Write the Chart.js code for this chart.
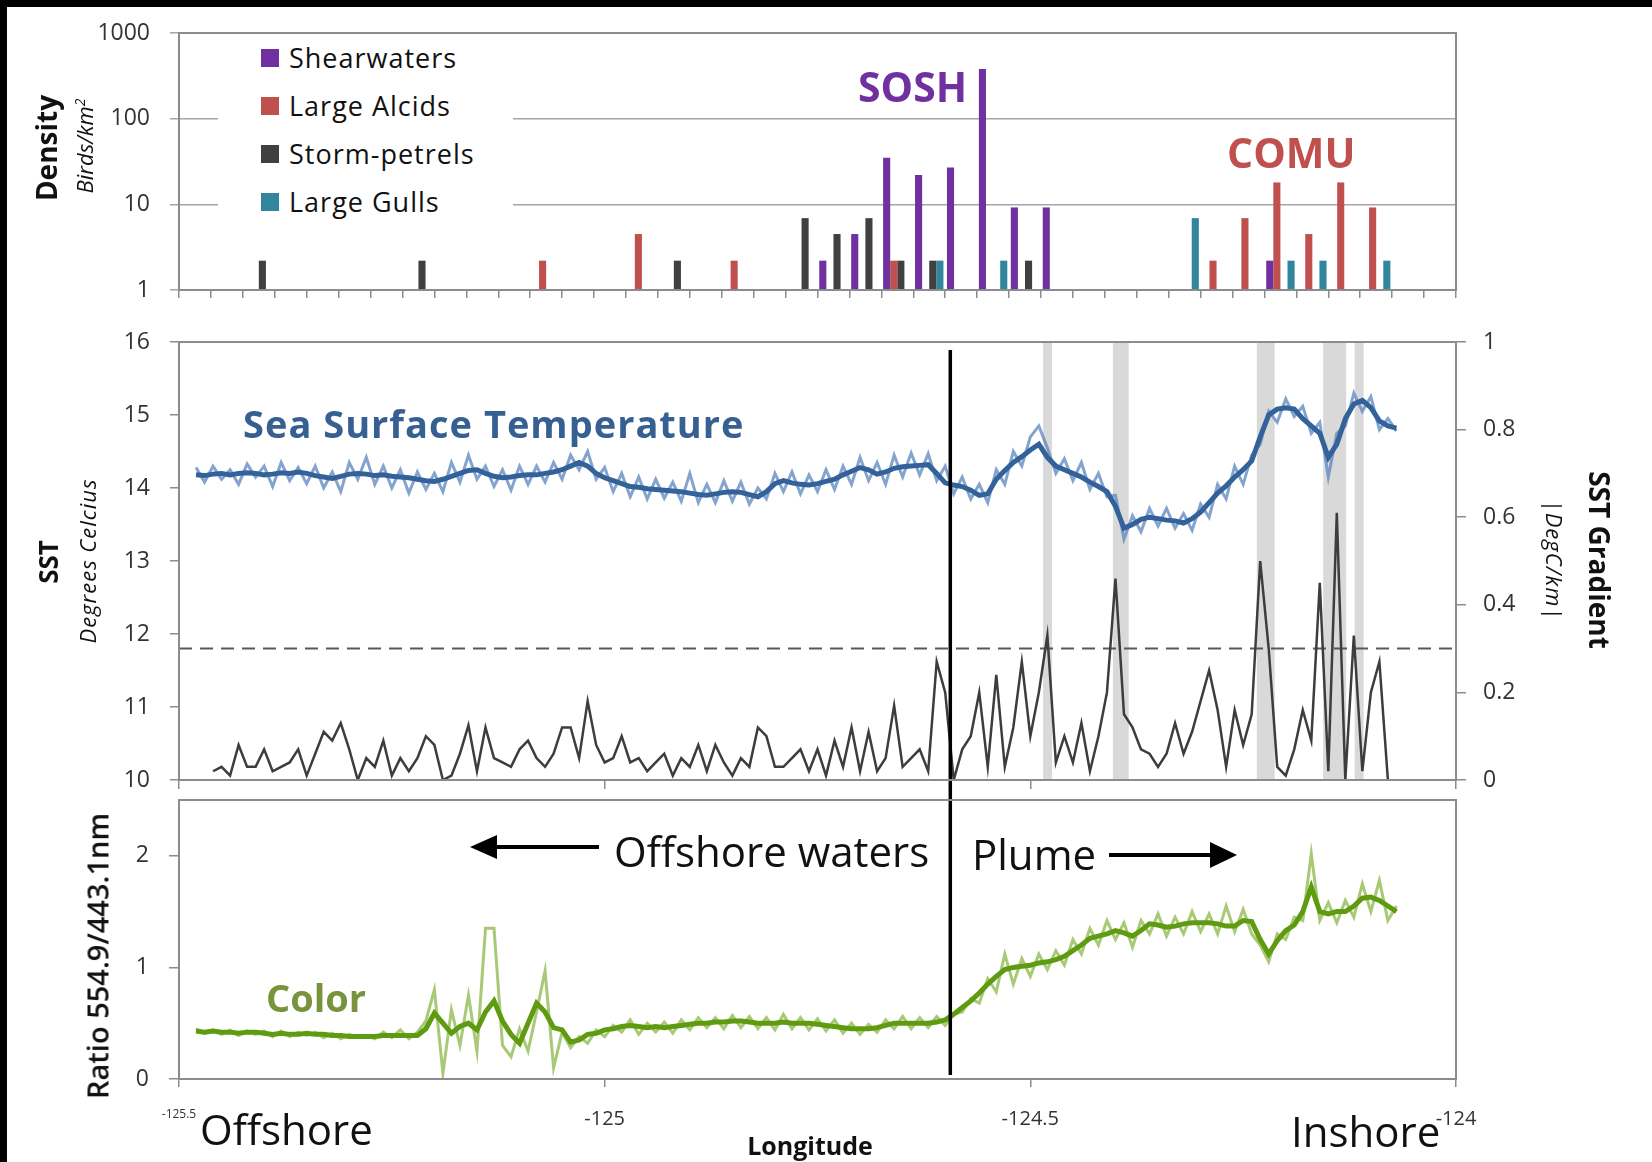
<!DOCTYPE html>
<html>
<head>
<meta charset="utf-8">
<script src="https://cdn.jsdelivr.net/npm/chart.js@4.4.1/dist/chart.umd.min.js"></script>
<style>
  html, body { margin: 0; padding: 0; background: #fff; }
  #page { position: relative; width: 1652px; height: 1162px; overflow: hidden; font-family: 'Open Sans', sans-serif; color: #111; }
  canvas { position: absolute; left: 0; }
  .txt { position: absolute; white-space: nowrap; line-height: 1; }
  .rot { position: absolute; white-space: nowrap; line-height: 1; transform: translate(-50%, -50%) rotate(-90deg); }
  .rotcw { position: absolute; white-space: nowrap; line-height: 1; transform: translate(-50%, -50%) rotate(90deg); }
  .black { position: absolute; background: #000; }
  #legend { position: absolute; left: 218px; top: 38px; width: 295px; height: 195px; background: #fff; }
  .legend-row { position: absolute; left: 43px; height: 27px; font-size: 27px; line-height: 27px; letter-spacing: 1px; }
  .swatch { position: absolute; left: 0; top: 5px; width: 18px; height: 18px; }
  .legend-label { position: absolute; left: 28px; top: 0; white-space: nowrap; }
</style>
</head>
<body>
<div id="page">
  <canvas id="densityChart" width="1652" height="300" style="top:0"></canvas>
  <canvas id="sstChart" width="1652" height="490" style="top:300px"></canvas>
  <canvas id="colorChart" width="1652" height="372" style="top:790px"></canvas>

  <div id="legend"></div>

  <div class="rot" style="left:46px;top:148px;font-size:28px;font-weight:700">Density</div>
  <div class="rot" style="left:84px;top:146px;font-size:22px;font-style:italic">Birds/km<sup style="font-size:14px">2</sup></div>
  <div class="rot" style="left:48px;top:562px;font-size:26px;font-weight:700">SST</div>
  <div class="rot" style="left:87px;top:561px;font-size:22px;font-style:italic;letter-spacing:1px">Degrees Celcius</div>
  <div class="rot" style="left:97px;top:956px;font-size:29px;font-weight:600">Ratio 554.9/443.1nm</div>
  <div class="rotcw" style="left:1600px;top:560px;font-size:28px;font-weight:700">SST Gradient</div>
  <div class="rotcw" style="left:1555px;top:560px;font-size:22px;font-style:italic;letter-spacing:1px">|DegC/km|</div>

  <div class="txt" style="left:858px;top:66px;font-size:41px;font-weight:700;color:#7030a0">SOSH</div>
  <div class="txt" style="left:1227px;top:132px;font-size:41px;font-weight:700;color:#c0504d">COMU</div>
  <div class="txt" style="left:243px;top:404px;font-size:38px;font-weight:700;letter-spacing:1px;color:#376092">Sea Surface Temperature</div>
  <div class="txt" style="left:266px;top:978px;font-size:38px;font-weight:700;color:#77933c">Color</div>
  <div class="txt" style="left:614px;top:830px;font-size:42px">Offshore waters</div>
  <div class="txt" style="left:972px;top:833px;font-size:42px">Plume</div>
  <div class="txt" style="left:200px;top:1108px;font-size:42px">Offshore</div>
  <div class="txt" style="left:1291px;top:1110px;font-size:42px">Inshore</div>
  <div class="txt" style="left:810px;top:1133px;font-size:25px;font-weight:700;transform:translateX(-50%)">Longitude</div>

  <svg style="position:absolute;left:0;top:0" width="1652" height="1162">
    <line x1="495" y1="847" x2="599" y2="847" stroke="#000" stroke-width="4"/>
    <polygon points="470,847 497,835 497,859" fill="#000"/>
    <line x1="1109" y1="855" x2="1212" y2="855" stroke="#000" stroke-width="4"/>
    <polygon points="1237,855 1210,842 1210,868" fill="#000"/>
  </svg>

  <div class="black" style="left:0;top:0;width:1652px;height:7px"></div>
  <div class="black" style="left:0;top:0;width:7px;height:1162px"></div>
</div>

<script>
// Bird densities per longitude bin (birds/km2), log axis
const _ = null;
const densityBins = ['1','2','3','4','5','6','7','8','9','10','11','12','13','14','15','16','17','18','19','20',
                     '21','22','23','24','25','26','27','28','29','30','31','32','33','34','35','36','37','38','39','40'];
const densityTicks = [1, 10, 100, 1000];

const shearwaters = [_, _, _, _, _, _, _, _, _, _,
                     _, _, _, _, _, _, _, _, _, _,
                     2.2, 4.5, 35, 22, 27, 380, 9.2, 9.2, _, _,
                     _, _, _, _, 2.2, _, _, _, _, _];
const largeAlcids = [_, _, _, _, _, _, _, _, _, _,
                     _, 2.2, _, _, 4.5, _, _, 2.2, _, _,
                     _, _, 2.2, _, _, _, _, _, _, _,
                     _, _, 2.2, 6.9, 18, 4.5, 18, 9.2, _, _];
const stormPetrels = [_, _, 2.2, _, _, _, _, 2.2, _, _,
                      _, _, _, _, _, 2.2, _, _, _, 6.9,
                      4.5, 6.9, 2.2, 2.2, _, _, 2.2, _, _, _,
                      _, _, _, _, _, _, _, _, _, _];
const largeGulls = [_, _, _, _, _, _, _, _, _, _,
                    _, _, _, _, _, _, _, _, _, _,
                    _, _, _, 2.2, _, 2.2, _, _, _, _,
                    _, 6.9, _, _, 2.2, 2.2, _, 2.2, _, _];

// Transect samples, one every 0.01 degree of longitude from -125.48
const transectStart = -125.48;
const transectStep = 0.01;

const sstRaw = [14.28, 14.08, 14.3, 14.12, 14.25, 14.05, 14.33, 14.15, 14.3, 14.02,
  14.35, 14.1, 14.28, 14.06, 14.3, 14.0, 14.22, 13.95, 14.35, 14.12,
  14.42, 14.05, 14.3, 14.0, 14.25, 13.93, 14.22, 13.98, 14.2, 13.95,
  14.35, 14.08, 14.45, 14.12, 14.3, 14.02, 14.25, 13.97, 14.3, 14.05,
  14.3, 14.08, 14.35, 14.12, 14.45, 14.25, 14.5, 14.12, 14.28, 13.95,
  14.2, 13.88, 14.15, 13.85, 14.12, 13.86, 14.08, 13.82, 14.2, 13.8,
  14.05, 13.8, 14.1, 13.82, 14.08, 13.78, 14.0, 13.85, 14.2, 13.95,
  14.22, 13.92, 14.18, 13.95, 14.25, 13.98, 14.3, 14.05, 14.42, 14.1,
  14.35, 14.05, 14.45, 14.15, 14.48, 14.18, 14.47, 14.1, 14.3, 13.92,
  14.15, 13.85, 14.05, 13.8, 14.25, 14.05, 14.5, 14.3, 14.7, 14.85,
  14.55, 14.2, 14.4, 14.1, 14.35, 13.98, 14.2, 13.88, 13.9, 13.3,
  13.62, 13.4, 13.72, 13.48, 13.72, 13.45, 13.65, 13.42, 13.78, 13.6,
  14.05, 13.85, 14.3, 14.05, 14.45, 14.6, 15.05, 14.9, 15.22, 14.98,
  15.12, 14.75, 14.9, 14.15, 14.75, 14.85, 15.3, 15.05, 15.25, 14.8,
  14.95, 14.78];

const sstSmooth = [14.18, 14.17, 14.19, 14.2, 14.18, 14.2, 14.21, 14.2, 14.18, 14.19,
  14.21, 14.2, 14.22, 14.2, 14.17, 14.15, 14.13, 14.16, 14.19, 14.2,
  14.19, 14.17, 14.18, 14.16, 14.15, 14.14, 14.12, 14.1, 14.09, 14.12,
  14.16, 14.2, 14.24, 14.25, 14.2, 14.16, 14.14, 14.15, 14.17, 14.18,
  14.18, 14.2, 14.22, 14.25, 14.3, 14.35, 14.3, 14.2, 14.14, 14.1,
  14.06, 14.02, 14.01, 13.99, 13.98, 13.97, 13.96, 13.95, 13.93, 13.91,
  13.9, 13.92, 13.94, 13.95, 13.94, 13.91, 13.88, 13.95, 14.06, 14.1,
  14.07, 14.05, 14.04, 14.06, 14.09, 14.12, 14.18, 14.23, 14.28, 14.25,
  14.19, 14.22, 14.27, 14.29, 14.3, 14.31, 14.32, 14.2, 14.07, 14.04,
  14.02, 13.97, 13.9, 13.92, 14.12, 14.24, 14.35, 14.43, 14.52, 14.6,
  14.42, 14.3, 14.25, 14.2, 14.15, 14.08, 14.02, 13.95, 13.75, 13.45,
  13.5, 13.57, 13.6, 13.58, 13.56, 13.55, 13.52, 13.58, 13.67, 13.8,
  13.93, 14.03, 14.15, 14.25, 14.37, 14.7, 15.0, 15.08, 15.1, 15.08,
  14.95, 14.85, 14.75, 14.42, 14.6, 14.95, 15.15, 15.2, 15.1, 14.92,
  14.85, 14.82];

const sstGradient = [_, _, 0.02, 0.03, 0.01, 0.08, 0.03, 0.03, 0.07, 0.02,
  0.03, 0.04, 0.07, 0.01, 0.06, 0.11, 0.09, 0.13, 0.07, 0.0,
  0.05, 0.03, 0.09, 0.01, 0.05, 0.02, 0.05, 0.1, 0.08, 0.0,
  0.01, 0.06, 0.125, 0.02, 0.12, 0.05, 0.04, 0.03, 0.07, 0.09,
  0.05, 0.03, 0.06, 0.12, 0.12, 0.05, 0.18, 0.08, 0.04, 0.05,
  0.1, 0.04, 0.05, 0.02, 0.04, 0.06, 0.01, 0.05, 0.03, 0.08,
  0.02, 0.08, 0.04, 0.01, 0.05, 0.03, 0.12, 0.1, 0.03, 0.03,
  0.05, 0.07, 0.02, 0.07, 0.01, 0.09, 0.03, 0.12, 0.02, 0.11,
  0.02, 0.05, 0.17, 0.03, 0.05, 0.07, 0.02, 0.27, 0.2, 0.0,
  0.07, 0.1, 0.2, 0.03, 0.24, 0.03, 0.12, 0.27, 0.1, 0.2,
  0.33, 0.04, 0.1, 0.04, 0.13, 0.02, 0.1, 0.2, 0.46, 0.15,
  0.12, 0.07, 0.06, 0.03, 0.06, 0.13, 0.06, 0.11, 0.18, 0.25,
  0.16, 0.03, 0.16, 0.08, 0.15, 0.5, 0.3, 0.03, 0.01, 0.07,
  0.16, 0.09, 0.45, 0.02, 0.61, 0.0, 0.33, 0.02, 0.2, 0.27,
  0.0, _];
const gradientThreshold = 0.3;

const colorRaw = [0.45, 0.41, 0.44, 0.4, 0.44, 0.39, 0.43, 0.4, 0.43, 0.38,
  0.43, 0.38, 0.42, 0.39, 0.42, 0.37, 0.41, 0.36, 0.4, 0.37,
  0.39, 0.36, 0.42, 0.37, 0.44, 0.36, 0.42, 0.52, 0.8, 0.05,
  0.62, 0.3, 0.75, 0.25, 1.35, 1.35, 0.3, 0.2, 0.45, 0.25,
  0.6, 0.97, 0.1, 0.42, 0.28, 0.38, 0.32, 0.44, 0.38, 0.48,
  0.42, 0.53, 0.4, 0.5, 0.42, 0.51, 0.41, 0.53, 0.44, 0.55,
  0.46, 0.55, 0.45, 0.57, 0.46, 0.56, 0.45, 0.55, 0.44, 0.58,
  0.45, 0.55, 0.44, 0.54, 0.43, 0.53, 0.41, 0.5, 0.4, 0.49,
  0.42, 0.53, 0.45, 0.56, 0.45, 0.55, 0.46, 0.56, 0.48, 0.58,
  0.6, 0.72, 0.68, 0.9, 0.78, 1.12, 0.85, 1.08, 0.92, 1.12,
  0.98, 1.15, 1.02, 1.25, 1.12, 1.35, 1.2, 1.42, 1.25, 1.4,
  1.18, 1.42, 1.3, 1.48, 1.28, 1.45, 1.3, 1.5, 1.32, 1.48,
  1.3, 1.55, 1.32, 1.52, 1.3, 1.2, 1.05, 1.3, 1.25, 1.45,
  1.42, 2.02, 1.42, 1.58, 1.4, 1.6, 1.45, 1.75, 1.5, 1.78,
  1.42, 1.55];

const colorSmooth = [0.43, 0.42, 0.43, 0.42, 0.42, 0.41, 0.42, 0.42, 0.41, 0.4,
  0.41, 0.4, 0.4, 0.41, 0.4, 0.4, 0.39, 0.39, 0.38, 0.38,
  0.38, 0.38, 0.39, 0.39, 0.39, 0.39, 0.39, 0.45, 0.59, 0.5,
  0.41, 0.47, 0.5, 0.44, 0.6, 0.7, 0.52, 0.4, 0.32, 0.5,
  0.68, 0.6, 0.46, 0.44, 0.33, 0.35, 0.4, 0.41, 0.44, 0.45,
  0.47, 0.48, 0.47, 0.46, 0.47, 0.46, 0.47, 0.48, 0.49, 0.5,
  0.5, 0.51, 0.51, 0.52, 0.52, 0.51, 0.5, 0.5, 0.5, 0.51,
  0.5, 0.5, 0.5, 0.49, 0.48, 0.47, 0.46, 0.45, 0.45, 0.45,
  0.46, 0.48, 0.5, 0.5, 0.5, 0.5, 0.5, 0.51, 0.53, 0.58,
  0.64, 0.7, 0.77, 0.85, 0.92, 0.98, 1.0, 1.01, 1.02, 1.04,
  1.05, 1.07, 1.1, 1.15, 1.2, 1.26, 1.28, 1.3, 1.33, 1.31,
  1.28, 1.33, 1.39, 1.38, 1.36, 1.37, 1.39, 1.4, 1.4, 1.4,
  1.39, 1.37, 1.37, 1.42, 1.41, 1.25, 1.12, 1.24, 1.33, 1.38,
  1.5, 1.72, 1.5, 1.48, 1.5, 1.5, 1.55, 1.62, 1.63, 1.6,
  1.55, 1.5];

const lonTicks = [-125.5, -125, -124.5, -124];
const colorTicks = [0, 1, 2];
// SST fronts (gradient above threshold), shaded
const frontBands = [[-124.485, -124.4745], [-124.403, -124.3845], [-124.234, -124.213],
                    [-124.156, -124.129], [-124.119, -124.1085]];
const plumeFrontLon = -124.594;

Chart.defaults.font.family = "'Open Sans', sans-serif";
Chart.defaults.font.size = 23;
Chart.defaults.color = '#333';

const axisGray = '#8c8c8c';
const leftAxisWidth = 179;
const rightMargin = 196;

function track(values) {
  return values.map((v, i) => ({ x: transectStart + i * transectStep, y: v }));
}

// fixed axis widths so the three panels line up; no label overhang padding
function fixWidth(w) {
  return s => { s.width = w; s.paddingTop = 0; s.paddingBottom = 0; };
}
function fixHeight(h) {
  return s => { s.height = h; };
}

const framePlugin = {
  id: 'frame',
  afterDraw(chart) {
    const { ctx, chartArea: a } = chart;
    ctx.save();
    ctx.strokeStyle = axisGray;
    ctx.lineWidth = 2;
    ctx.strokeRect(a.left, a.top, a.right - a.left, a.bottom - a.top);
    ctx.restore();
  }
};

const bandPlugin = {
  id: 'bands',
  beforeDatasetsDraw(chart) {
    const { ctx, chartArea: a, scales: { x } } = chart;
    ctx.save();
    ctx.fillStyle = '#d9d9d9';
    frontBands.forEach(([from, to]) => {
      const x0 = x.getPixelForValue(from);
      const x1 = x.getPixelForValue(to);
      ctx.fillRect(x0, a.top, x1 - x0, a.bottom - a.top);
    });
    ctx.restore();
  }
};

function plumeLine(fromTop, toBottom) {
  return {
    id: 'plumeLine',
    afterDatasetsDraw(chart) {
      const { ctx, chartArea: a, scales: { x } } = chart;
      const px = x.getPixelForValue(plumeFrontLon);
      ctx.save();
      ctx.strokeStyle = '#000';
      ctx.lineWidth = 3.5;
      ctx.beginPath();
      ctx.moveTo(px, fromTop(a, chart));
      ctx.lineTo(px, toBottom(a, chart));
      ctx.stroke();
      ctx.restore();
    }
  };
}

// Top: seabird densities
const densityChart = new Chart(document.getElementById('densityChart'), {
  type: 'bar',
  data: {
    labels: densityBins,
    datasets: [
      { label: 'Shearwaters', data: shearwaters, backgroundColor: '#7030a0' },
      { label: 'Large Alcids', data: largeAlcids, backgroundColor: '#c0504d' },
      { label: 'Storm-petrels', data: stormPetrels, backgroundColor: '#404040' },
      { label: 'Large Gulls', data: largeGulls, backgroundColor: '#31859c' }
    ]
  },
  options: {
    responsive: false,
    animation: false,
    events: [],
    layout: { padding: { top: 33, right: rightMargin, left: 0, bottom: 0 } },
    datasets: { bar: { barPercentage: 1, categoryPercentage: 0.89 } },
    plugins: { legend: { display: false }, tooltip: { enabled: false } },
    scales: {
      x: {
        ticks: { display: false },
        grid: { offset: true, drawOnChartArea: false, tickLength: 8, color: axisGray, lineWidth: 1.5 },
        border: { color: axisGray, width: 2 },
        afterFit: fixHeight(10)
      },
      y: {
        type: 'logarithmic',
        min: 1,
        max: 1000,
        afterBuildTicks: s => { s.ticks = densityTicks.map(v => ({ value: v })); },
        ticks: { callback: v => String(v), padding: 20 },
        grid: { color: '#a6a6a6', lineWidth: 1.5, tickLength: 9 },
        border: { color: axisGray, width: 2 },
        afterFit: fixWidth(leftAxisWidth)
      }
    }
  },
  plugins: [framePlugin]
});

// legend built from the chart's own datasets
const legendBox = document.getElementById('legend');
densityChart.data.datasets.forEach((ds, i) => {
  const row = document.createElement('div');
  row.className = 'legend-row';
  row.style.top = (6 + 48 * i) + 'px';
  row.innerHTML = '<span class="swatch" style="background:' + ds.backgroundColor + '"></span>' +
                  '<span class="legend-label">' + ds.label + '</span>';
  legendBox.appendChild(row);
});

// Middle: SST and SST gradient
new Chart(document.getElementById('sstChart'), {
  type: 'line',
  data: {
    datasets: [
      { label: 'SST (smoothed)', data: track(sstSmooth), yAxisID: 'ySST', borderColor: '#33619a', borderWidth: 5 },
      { label: 'SST', data: track(sstRaw), yAxisID: 'ySST', borderColor: 'rgba(90,134,190,0.75)', borderWidth: 3 },
      { label: 'SST gradient', data: track(sstGradient), yAxisID: 'yGrad', borderColor: '#3d3d3d', borderWidth: 2.5 },
      { label: 'Front threshold', yAxisID: 'yGrad', borderColor: '#595959', borderWidth: 2, borderDash: [13, 8],
        data: [{ x: lonTicks[0], y: gradientThreshold }, { x: lonTicks[lonTicks.length - 1], y: gradientThreshold }] }
    ]
  },
  options: {
    responsive: false,
    animation: false,
    events: [],
    elements: { point: { radius: 0 }, line: { tension: 0, fill: false } },
    layout: { padding: { top: 42, right: 0, left: 0, bottom: 0 } },
    plugins: { legend: { display: false }, tooltip: { enabled: false } },
    scales: {
      x: {
        type: 'linear', min: -125.5, max: -124,
        afterBuildTicks: s => { s.ticks = lonTicks.map(v => ({ value: v })); },
        ticks: { display: false },
        grid: { drawOnChartArea: false, tickLength: 9, color: axisGray, lineWidth: 1.5 },
        border: { color: axisGray, width: 2 },
        afterFit: fixHeight(10)
      },
      ySST: {
        position: 'left', min: 10, max: 16,
        ticks: { stepSize: 1, padding: 20 },
        grid: { drawOnChartArea: false, tickLength: 9, color: axisGray, lineWidth: 1.5 },
        border: { color: axisGray, width: 2 },
        afterFit: fixWidth(leftAxisWidth)
      },
      yGrad: {
        position: 'right', min: 0, max: 1,
        ticks: { stepSize: 0.2, padding: 17, callback: v => String(Math.round(v * 10) / 10) },
        grid: { drawOnChartArea: false, tickLength: 10, color: axisGray, lineWidth: 1.5 },
        border: { color: axisGray, width: 2 },
        afterFit: fixWidth(rightMargin)
      }
    }
  },
  plugins: [bandPlugin, framePlugin, plumeLine(a => a.top + 8, (a, c) => c.height)]
});

// Bottom: ocean colour ratio
new Chart(document.getElementById('colorChart'), {
  type: 'line',
  data: {
    datasets: [
      { label: 'Color (smoothed)', data: track(colorSmooth), borderColor: '#5f9b10', borderWidth: 5 },
      { label: 'Color', data: track(colorRaw), borderColor: 'rgba(122,172,45,0.65)', borderWidth: 3 }
    ]
  },
  options: {
    responsive: false,
    animation: false,
    events: [],
    elements: { point: { radius: 0 }, line: { tension: 0, fill: false } },
    layout: { padding: { top: 10, right: rightMargin, left: 0, bottom: 0 } },
    plugins: { legend: { display: false }, tooltip: { enabled: false } },
    scales: {
      x: {
        type: 'linear', min: -125.5, max: -124,
        afterBuildTicks: s => { s.ticks = lonTicks.map(v => ({ value: v })); },
        ticks: {
          autoSkip: false, maxRotation: 0, padding: 20,
          callback: v => String(v),
          font: c => ({ size: c.index === 0 ? 12 : 20 })
        },
        grid: { drawOnChartArea: false, tickLength: 8, color: axisGray, lineWidth: 1.5 },
        border: { color: axisGray, width: 2 },
        afterFit: fixHeight(83)
      },
      y: {
        min: 0, max: 2.5,
        afterBuildTicks: s => { s.ticks = colorTicks.map(v => ({ value: v })); },
        ticks: { padding: 20 },
        grid: { drawOnChartArea: false, tickLength: 10, color: axisGray, lineWidth: 1.5 },
        border: { color: axisGray, width: 2 },
        afterFit: fixWidth(leftAxisWidth)
      }
    }
  },
  plugins: [framePlugin, plumeLine(() => 0, a => a.bottom - 4)]
});
</script>
</body>
</html>
